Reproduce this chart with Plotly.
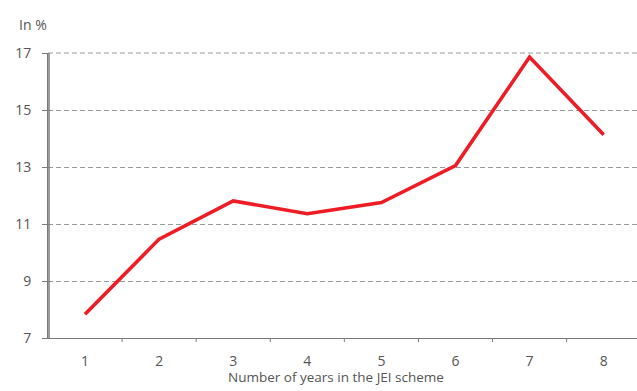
import plotly.graph_objects as go

years = [1, 2, 3, 4, 5, 6, 7, 8]
values = [7.83, 10.47, 11.81, 11.36, 11.75, 13.05, 16.86, 14.13]
y_ticks = [7, 9, 11, 13, 15, 17]

W, H = 637, 391
L, R_EDGE, T, B = 48, 637, 53, 338
PH = B - T
PW = R_EDGE - L
X_MIN, X_MAX = 0.5, 8.45

fig = go.Figure()
fig.add_trace(go.Scatter(
    x=years, y=values, mode="lines",
    line=dict(color="#ee1c25", width=3.6),
    hoverinfo="skip", showlegend=False, cliponaxis=False,
))

txt = "#555555"
axis_col = "#7a7a7a"
grid_col = "#9a9a9a"
fig.update_layout(
    width=W, height=H,
    margin=dict(l=L, r=W - R_EDGE, t=T, b=H - B),
    paper_bgcolor="white", plot_bgcolor="white",
    font=dict(family="Open Sans, Noto Sans, sans-serif", size=14, color=txt),
    xaxis=dict(
        range=[X_MIN, X_MAX], tickvals=years, ticktext=[str(v) for v in years],
        showgrid=False, showline=True, linecolor=axis_col, linewidth=1,
        ticks="", zeroline=False, ticklabelstandoff=10,
        tickfont=dict(size=14, color=txt),
    ),
    yaxis=dict(
        range=[y_ticks[0], y_ticks[-1]], tickvals=y_ticks,
        showgrid=True, gridcolor=grid_col, griddash="5px,3px", gridwidth=1,
        showline=True, linecolor=axis_col, linewidth=1, mirror=False,
        ticks="outside", ticklen=5, tickcolor=axis_col,
        zeroline=False, ticklabelstandoff=8, tickfont=dict(size=14, color=txt),
    ),
    annotations=[
        dict(text="In %", xref="paper", yref="paper", x=(17 - L) / PW,
             y=1, yshift=(T - 24), xanchor="left", yanchor="middle", showarrow=False,
             font=dict(size=14, color=txt)),
        dict(text="Number of years in the JEI scheme", xref="paper", yref="paper",
             x=(336 - L) / PW, y=0, yshift=-(377 - B), xanchor="center", yanchor="middle",
             showarrow=False, font=dict(size=13.5, color=txt)),
    ],
)

shapes = []
# top gridline (at the range edge)
shapes.append(dict(type="line", xref="paper", yref="paper", x0=0, x1=1, y0=1, y1=1,
                   line=dict(color=grid_col, width=1, dash="5px,3px"), layer="below"))
# explicit left axis line, one pixel inside the plot area
shapes.append(dict(type="line", xref="x", yref="y",
                   x0=X_MIN + (X_MAX - X_MIN) * 1.0 / PW, x1=X_MIN + (X_MAX - X_MIN) * 1.0 / PW,
                   y0=y_ticks[0], y1=y_ticks[-1],
                   line=dict(color=axis_col, width=1.5), layer="above"))
# category-separating tick marks on the x axis
for b in [1.5, 2.5, 3.5, 4.5, 5.5, 6.5, 7.5]:
    shapes.append(dict(type="line", xref="x", yref="paper", x0=b, x1=b, y0=0, y1=-4 / PH,
                       line=dict(color=axis_col, width=1)))
fig.update_layout(shapes=shapes)

fig.write_html("out.html")
